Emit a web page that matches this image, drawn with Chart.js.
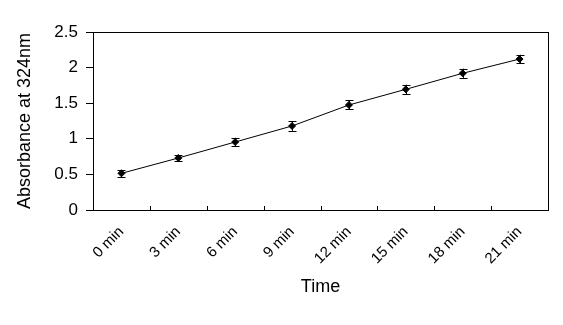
<!DOCTYPE html>
<html>
<head>
<meta charset="utf-8">
<script src="https://cdn.jsdelivr.net/npm/chart.js@4/dist/chart.umd.min.js"></script>
<style>
  html, body { margin: 0; padding: 0; background: #fff; }
  #wrap { width: 563px; height: 325px; position: relative; }
</style>
</head>
<body>
<div id="wrap"><canvas id="chart"></canvas></div>
<script>
// Absorbance readings over time
const timeLabels = ['0 min', '3 min', '6 min', '9 min', '12 min', '15 min', '18 min', '21 min'];
const absorbance = [0.515, 0.73, 0.955, 1.18, 1.475, 1.695, 1.92, 2.12];
const absorbanceErr = [0.05, 0.045, 0.06, 0.068, 0.063, 0.066, 0.065, 0.06];
const yTicks = [0, 0.5, 1, 1.5, 2, 2.5];

const FONT = 'Arial, "Liberation Sans", sans-serif';

// frame, inside x ticks and error bars
const excelLook = {
    id: 'excelLook',
    afterDatasetsDraw(chart) {
        const { ctx, chartArea: a, scales: { x, y } } = chart;
        ctx.save();
        ctx.strokeStyle = '#000';
        ctx.lineWidth = 1;

        // error bars
        const meta = chart.getDatasetMeta(0);
        meta.data.forEach((pt, i) => {
            const yTop = y.getPixelForValue(absorbance[i] + absorbanceErr[i]);
            const yBot = y.getPixelForValue(absorbance[i] - absorbanceErr[i]);
            const px = Math.round(pt.x) + 0.5;
            ctx.beginPath();
            ctx.moveTo(px, yTop);
            ctx.lineTo(px, yBot);
            ctx.moveTo(px - 4, Math.round(yTop) + 0.5);
            ctx.lineTo(px + 4, Math.round(yTop) + 0.5);
            ctx.moveTo(px - 4, Math.round(yBot) + 0.5);
            ctx.lineTo(px + 4, Math.round(yBot) + 0.5);
            ctx.stroke();
        });

        // plot frame
        ctx.strokeRect(Math.round(a.left) + 0.5, Math.round(a.top) + 0.5,
            Math.round(a.width), Math.round(a.height));

        // x tick marks pointing inward at category boundaries
        for (let i = 0; i <= timeLabels.length; i++) {
            const tx = Math.round(x.getPixelForValue(i - 0.5)) + 0.5;
            ctx.beginPath();
            ctx.moveTo(tx, a.bottom);
            ctx.lineTo(tx, a.bottom - 4);
            ctx.stroke();
        }
        ctx.restore();
    }
};

new Chart(document.getElementById('chart'), {
    type: 'line',
    data: {
        labels: timeLabels,
        datasets: [{
            data: absorbance,
            borderColor: '#000',
            backgroundColor: '#000',
            borderWidth: 1,
            pointStyle: 'rectRot',
            pointRadius: 3.5,
            pointBorderWidth: 1,
            tension: 0
        }]
    },
    options: {
        responsive: true,
        maintainAspectRatio: false,
        animation: false,
        layout: { padding: { top: 32, right: 15, left: 0, bottom: 0 } },
        plugins: {
            legend: { display: false },
            tooltip: { enabled: false }
        },
        scales: {
            x: {
                offset: true,
                grid: { display: false, drawTicks: false },
                border: { display: false },
                ticks: {
                    color: '#000',
                    font: { family: FONT, size: 15 },
                    minRotation: 45,
                    maxRotation: 45,
                    padding: 13,
                    autoSkip: false
                },
                title: {
                    display: true,
                    text: 'Time',
                    color: '#000',
                    font: { family: FONT, size: 18 },
                    padding: { top: 0, bottom: 27 }
                },
                afterFit(scale) { scale.height = 115; }
            },
            y: {
                min: 0,
                max: 2.5,
                afterBuildTicks(scale) { scale.ticks = yTicks.map(v => ({ value: v })); },
                grid: { drawOnChartArea: false, tickLength: 7, color: '#000' },
                border: { display: true, color: '#000' },
                ticks: {
                    color: '#000',
                    font: { family: FONT, size: 17 },
                    padding: 8,
                    callback: v => String(v)
                },
                title: {
                    display: true,
                    text: 'Absorbance at 324nm',
                    color: '#000',
                    font: { family: FONT, size: 18 },
                    padding: { top: 14, bottom: 0 }
                },
                afterFit(scale) { scale.width = 93; }
            }
        }
    },
    plugins: [excelLook]
});
</script>
</body>
</html>
